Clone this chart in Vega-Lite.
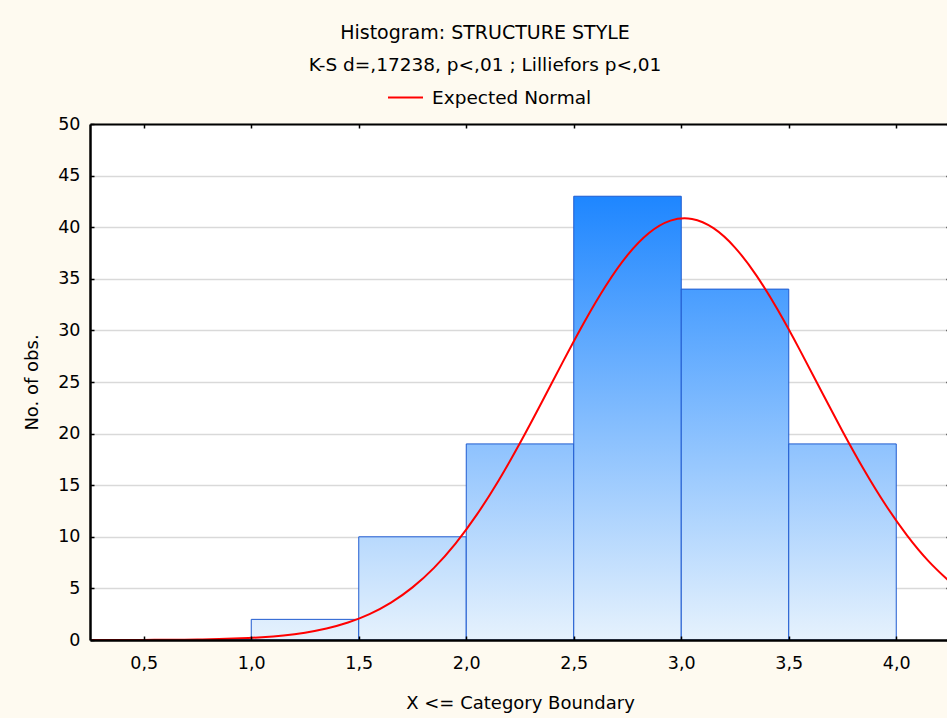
{
  "$schema": "https://vega.github.io/schema/vega-lite/v6.json",
  "width": 860,
  "height": 516,
  "autosize": {"type": "none"},
  "padding": {"left": 90, "top": 124, "right": 0, "bottom": 78},
  "background": "#FEFAF0",
  "view": {"fill": "#FFFFFF", "stroke": null},
  "title": {
    "text": "Histogram: STRUCTURE STYLE",
    "subtitle": "K-S d=,17238, p<,01 ; Lilliefors p<,01",
    "font": "DejaVu Sans",
    "subtitleFont": "DejaVu Sans",
    "fontSize": 19,
    "subtitleFontSize": 18.5,
    "fontWeight": "normal",
    "color": "#000000",
    "subtitleColor": "#000000",
    "subtitlePadding": 13,
    "anchor": "middle",
    "dx": -35,
    "offset": 5
  },
  "config": {
    "font": "DejaVu Sans",
    "axis": {
      "labelFont": "DejaVu Sans",
      "titleFont": "DejaVu Sans",
      "labelColor": "#000000",
      "titleColor": "#000000",
      "domainColor": "#000000",
      "tickColor": "#000000",
      "labelFontSize": 17.5,
      "titleFontSize": 18,
      "titleFontWeight": "normal"
    },
    "legend": {"labelFont": "DejaVu Sans"}
  },
  "resolve": {"axis": {"x": "independent", "y": "independent"}},
  "layer": [
    {
      "data": {
        "values": [
          {"lo": 0.5, "hi": 1.0, "count": 0},
          {"lo": 1.0, "hi": 1.5, "count": 2},
          {"lo": 1.5, "hi": 2.0, "count": 10},
          {"lo": 2.0, "hi": 2.5, "count": 19},
          {"lo": 2.5, "hi": 3.0, "count": 43},
          {"lo": 3.0, "hi": 3.5, "count": 34},
          {"lo": 3.5, "hi": 4.0, "count": 19}
        ]
      },
      "mark": {"type": "rect", "stroke": "#1F5BD0", "strokeWidth": 1},
      "encoding": {
        "x": {
          "field": "lo",
          "type": "quantitative",
          "scale": {"domain": [0.25, 4.25], "nice": false, "zero": false},
          "axis": {
            "orient": "top",
            "title": null,
            "labels": false,
            "grid": false,
            "values": [0.5, 1.0, 1.5, 2.0, 2.5, 3.0, 3.5, 4.0],
            "domainWidth": 2,
            "tickSize": -4,
            "tickWidth": 1.5,
            "zindex": 1
          }
        },
        "x2": {"field": "hi"},
        "y": {
          "field": "count",
          "type": "quantitative",
          "scale": {"domain": [0, 50], "nice": false},
          "axis": {
            "orient": "right",
            "title": null,
            "labels": false,
            "values": [0, 5, 10, 15, 20, 25, 30, 35, 40, 45, 50],
            "grid": true,
            "gridColor": "#D9D9D9",
            "gridWidth": 1.5,
            "domainWidth": 2,
            "tickSize": -4,
            "tickWidth": 1.5,
            "zindex": 0
          }
        },
        "y2": {"datum": 0},
        "fill": {
          "condition": [
            {"test": "datum.count == 43", "value": {"gradient": "linear", "x1": 0, "y1": 0, "x2": 0, "y2": 1, "stops": [{"offset": 0, "color": "#1E86FF"}, {"offset": 1, "color": "#E6F2FD"}]}},
            {"test": "datum.count == 34", "value": {"gradient": "linear", "x1": 0, "y1": 0, "x2": 0, "y2": 1, "stops": [{"offset": 0, "color": "#489DFF"}, {"offset": 1, "color": "#E6F2FD"}]}},
            {"test": "datum.count == 19", "value": {"gradient": "linear", "x1": 0, "y1": 0, "x2": 0, "y2": 1, "stops": [{"offset": 0, "color": "#8EC2FE"}, {"offset": 1, "color": "#E6F2FD"}]}},
            {"test": "datum.count == 10", "value": {"gradient": "linear", "x1": 0, "y1": 0, "x2": 0, "y2": 1, "stops": [{"offset": 0, "color": "#B8D9FD"}, {"offset": 1, "color": "#E6F2FD"}]}},
            {"test": "datum.count == 2", "value": {"gradient": "linear", "x1": 0, "y1": 0, "x2": 0, "y2": 1, "stops": [{"offset": 0, "color": "#DDEDFD"}, {"offset": 1, "color": "#E6F2FD"}]}}
          ],
          "value": "#E6F2FD"
        }
      }
    },
    {
      "data": {
        "values": [
          {"x": 0.25, "y": 0.002}, {"x": 0.35, "y": 0.004}, {"x": 0.45, "y": 0.0078},
          {"x": 0.55, "y": 0.0151}, {"x": 0.65, "y": 0.0283}, {"x": 0.75, "y": 0.0516},
          {"x": 0.85, "y": 0.0919}, {"x": 0.95, "y": 0.159}, {"x": 1.05, "y": 0.269},
          {"x": 1.15, "y": 0.443}, {"x": 1.25, "y": 0.711}, {"x": 1.35, "y": 1.11},
          {"x": 1.45, "y": 1.69}, {"x": 1.55, "y": 2.506}, {"x": 1.65, "y": 3.621},
          {"x": 1.75, "y": 5.097}, {"x": 1.85, "y": 6.992}, {"x": 1.95, "y": 9.345},
          {"x": 2.05, "y": 12.169}, {"x": 2.15, "y": 15.439}, {"x": 2.25, "y": 19.086},
          {"x": 2.35, "y": 22.987}, {"x": 2.45, "y": 26.976}, {"x": 2.55, "y": 30.845},
          {"x": 2.65, "y": 34.359}, {"x": 2.75, "y": 37.295}, {"x": 2.85, "y": 39.439},
          {"x": 2.95, "y": 40.636}, {"x": 3.05, "y": 40.795}, {"x": 3.15, "y": 39.903},
          {"x": 3.25, "y": 38.028}, {"x": 3.35, "y": 35.31}, {"x": 3.45, "y": 31.945},
          {"x": 3.55, "y": 28.16}, {"x": 3.65, "y": 24.183}, {"x": 3.75, "y": 20.236},
          {"x": 3.85, "y": 16.498}, {"x": 3.95, "y": 13.105}, {"x": 4.05, "y": 10.143},
          {"x": 4.15, "y": 7.648}, {"x": 4.25, "y": 5.619}
        ]
      },
      "mark": {"type": "line", "strokeWidth": 2, "interpolate": "natural", "clip": true},
      "encoding": {
        "x": {
          "field": "x",
          "type": "quantitative",
          "scale": {"domain": [0.25, 4.25], "nice": false, "zero": false},
          "axis": {
            "orient": "bottom",
            "title": "X <= Category Boundary",
            "values": [0.5, 1.0, 1.5, 2.0, 2.5, 3.0, 3.5, 4.0],
            "labelExpr": "replace(format(datum.value, '.1f'), '.', ',')",
            "grid": false,
            "domainWidth": 2.5,
            "tickSize": -4,
            "tickWidth": 1.5,
            "labelPadding": 18,
            "titlePadding": 23,
            "zindex": 1
          }
        },
        "y": {
          "field": "y",
          "type": "quantitative",
          "scale": {"domain": [0, 50], "nice": false},
          "axis": {
            "orient": "left",
            "title": "No. of obs.",
            "values": [0, 5, 10, 15, 20, 25, 30, 35, 40, 45, 50],
            "grid": false,
            "domainWidth": 2.5,
            "tickSize": -4,
            "tickWidth": 1.5,
            "labelPadding": 14,
            "titlePadding": 16,
            "zindex": 1
          }
        },
        "color": {
          "datum": "Expected Normal",
          "scale": {"range": ["#FF0000"]},
          "legend": {
            "title": null,
            "orient": "none",
            "legendX": 297,
            "legendY": -45,
            "padding": 0,
            "symbolType": "stroke",
            "symbolSize": 1225,
            "symbolStrokeWidth": 2,
            "labelFontSize": 18.5,
            "labelColor": "#000000",
            "labelOffset": 8
          }
        }
      }
    }
  ]
}
